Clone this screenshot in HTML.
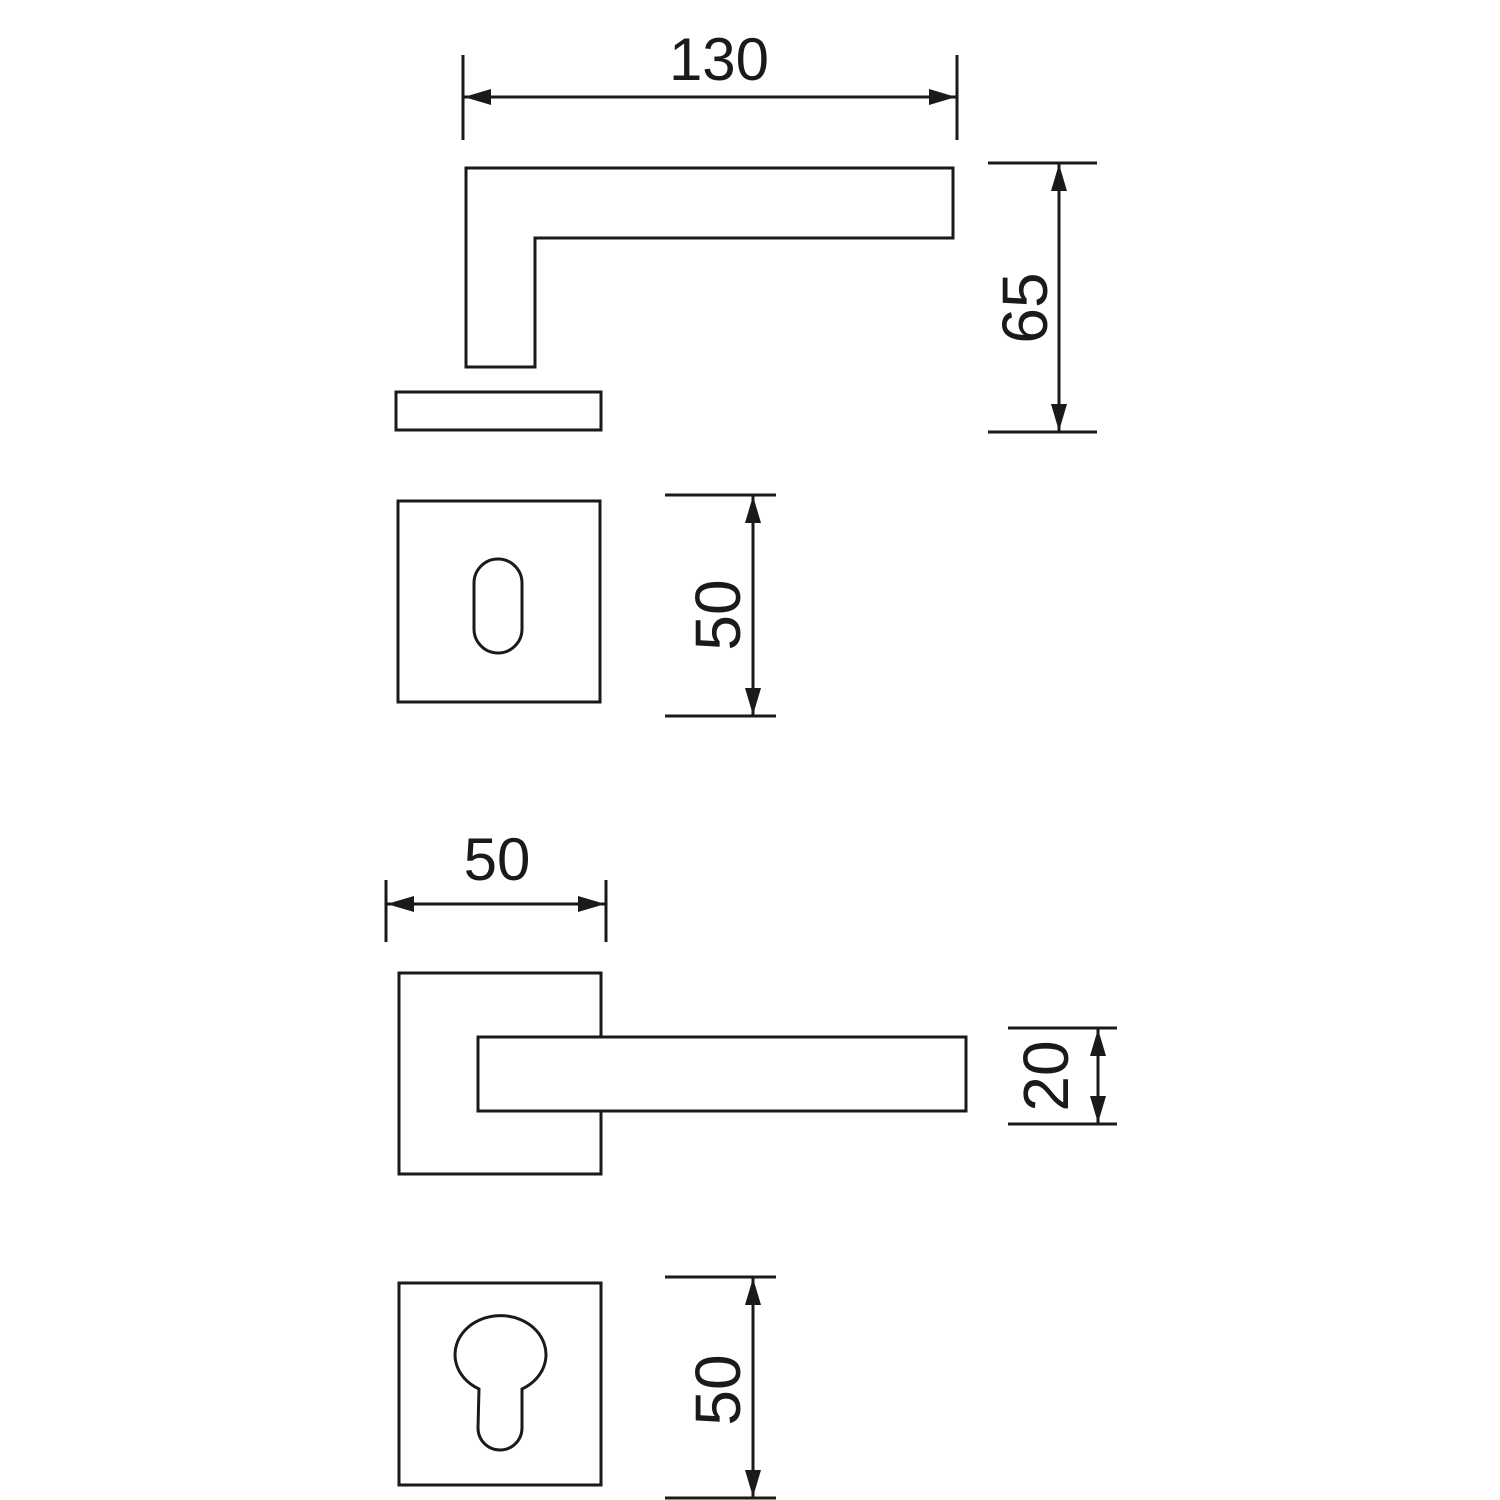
<!DOCTYPE html>
<html><head><style>html,body{margin:0;padding:0;background:#fff}svg{display:block}</style></head>
<body>
<svg width="1500" height="1500" viewBox="0 0 1500 1500" xmlns="http://www.w3.org/2000/svg">
<defs>
<marker id="a" viewBox="0 0 27 16" refX="27" refY="8" markerWidth="27" markerHeight="16" markerUnits="userSpaceOnUse" orient="auto-start-reverse"><path d="M0,0 L27,8 L0,16 Z" fill="#1a1a1a"/></marker>
</defs>
<g stroke="#1a1a1a" stroke-width="3" fill="none" font-family="Liberation Sans, sans-serif">
<line x1="463" y1="55" x2="463" y2="140"/>
<line x1="957" y1="55" x2="957" y2="140"/>
<line x1="464" y1="97" x2="956" y2="97" marker-start="url(#a)" marker-end="url(#a)"/>
<path d="M466,168 L953,168 L953,238 L535,238 L535,367 L466,367 Z"/>
<rect x="396" y="392" width="205" height="38"/>
<line x1="988" y1="163" x2="1097" y2="163"/>
<line x1="988" y1="432" x2="1097" y2="432"/>
<line x1="1059" y1="164" x2="1059" y2="431" marker-start="url(#a)" marker-end="url(#a)"/>
<rect x="398" y="501" width="202" height="201"/>
<rect x="474" y="559" width="48" height="94" rx="24" ry="24"/>
<line x1="665" y1="495" x2="776" y2="495"/>
<line x1="665" y1="716" x2="776" y2="716"/>
<line x1="753" y1="496" x2="753" y2="715" marker-start="url(#a)" marker-end="url(#a)"/>
<line x1="386" y1="880" x2="386" y2="942"/>
<line x1="606" y1="880" x2="606" y2="942"/>
<line x1="387" y1="904" x2="605" y2="904" marker-start="url(#a)" marker-end="url(#a)"/>
<rect x="399" y="973" width="202" height="201"/>
<rect x="478" y="1037" width="488" height="74" fill="#fff"/>
<line x1="1008" y1="1028" x2="1117" y2="1028"/>
<line x1="1008" y1="1124" x2="1117" y2="1124"/>
<line x1="1098" y1="1029" x2="1098" y2="1123" marker-start="url(#a)" marker-end="url(#a)"/>
<rect x="399" y="1283" width="202" height="202"/>
<path d="M479,1389 A45.5,39 0 1 1 522,1389 L522,1428 A22,22 0 0 1 478,1428 Z"/>
<line x1="665" y1="1277" x2="776" y2="1277"/>
<line x1="665" y1="1498" x2="776" y2="1498"/>
<line x1="753" y1="1278" x2="753" y2="1497" marker-start="url(#a)" marker-end="url(#a)"/>
</g>
<g fill="#1a1a1a" font-family="Liberation Sans, sans-serif" text-anchor="middle">
<text x="719" y="80" font-size="60">130</text>
<text x="497" y="880" font-size="60">50</text>
<text transform="translate(1047,308) rotate(-90)" font-size="64">65</text>
<text transform="translate(740,615) rotate(-90)" font-size="64">50</text>
<text transform="translate(1068,1076) rotate(-90)" font-size="64">20</text>
<text transform="translate(740,1390) rotate(-90)" font-size="64">50</text>
</g>
</svg>
</body></html>
